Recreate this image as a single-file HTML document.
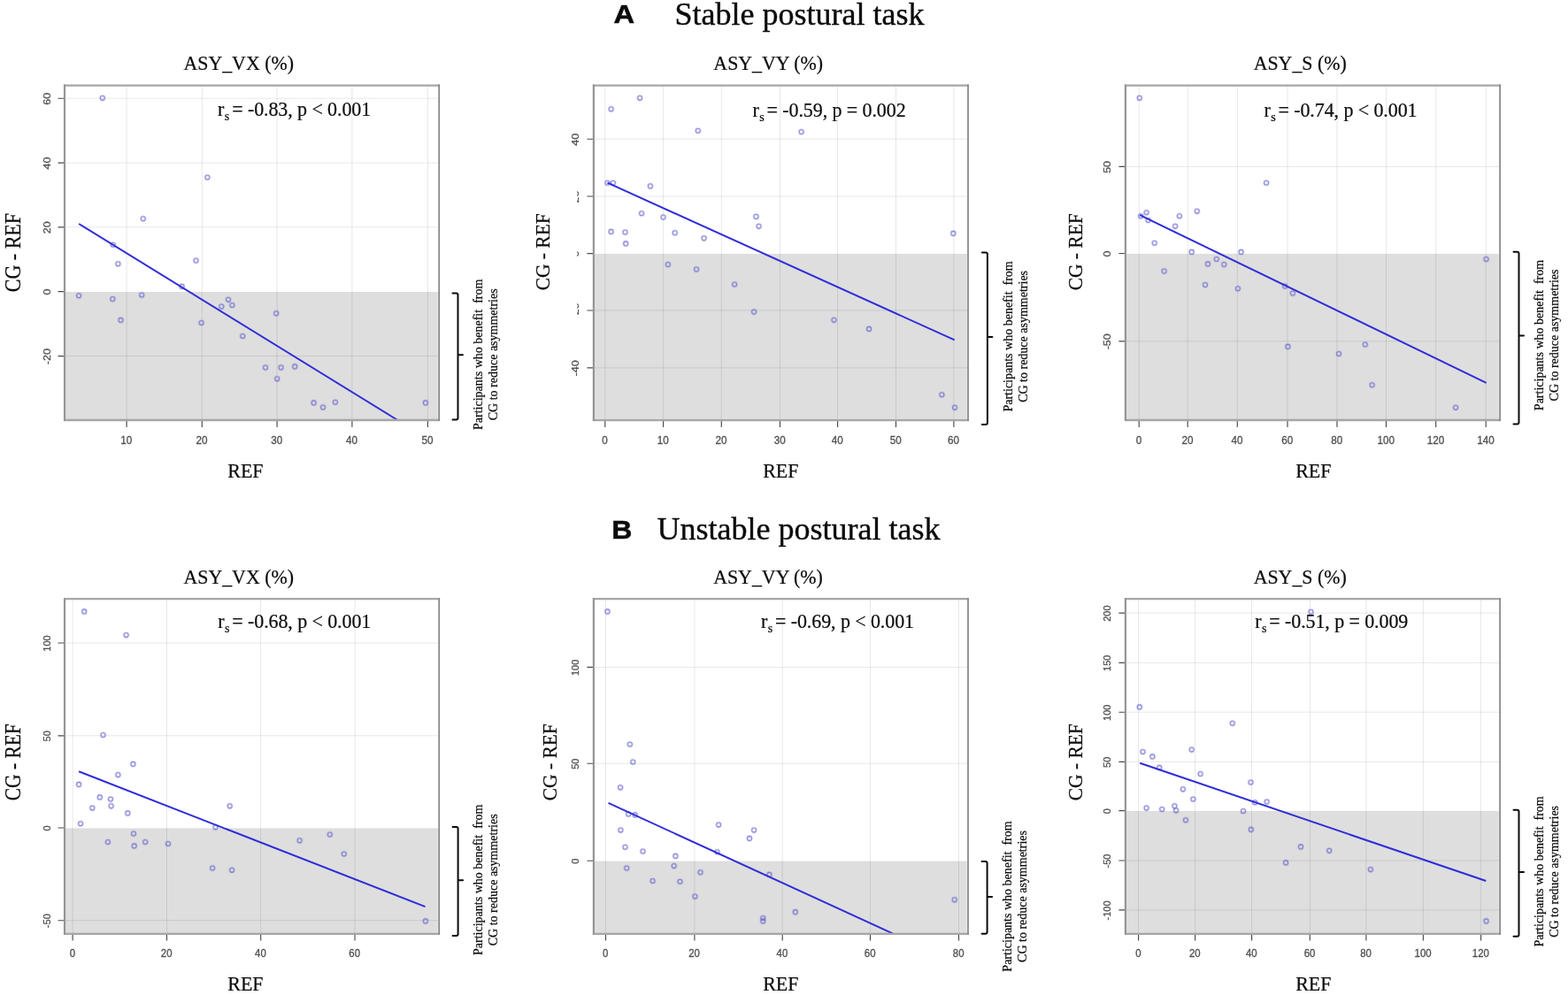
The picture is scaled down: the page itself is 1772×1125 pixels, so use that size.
<!DOCTYPE html>
<html lang="en"><head><meta charset="utf-8"><title>Asymmetry scatter plots</title>
<style>
html,body{margin:0;padding:0;background:#fff;}
body{width:1772px;height:1125px;overflow:hidden;}
svg{display:block;}
.se{font-family:"Liberation Serif","Times New Roman",serif;fill:#0c0c0c;stroke:#0c0c0c;stroke-width:0.22;}
.hd{stroke-width:0.4;}
.hb{fill:#0c0c0c;stroke:#0c0c0c;stroke-width:0.5;}
.sa{font-family:"Liberation Sans",Arial,sans-serif;}
.tl{font-family:"Liberation Sans",Arial,sans-serif;fill:#505050;stroke:#505050;stroke-width:0.3;}
.pt{fill:none;stroke:#6361cc;stroke-width:1.05;}
.gr{stroke:#000;stroke-opacity:0.095;stroke-width:1;fill:none;}
.tk{stroke:#4a4a4a;stroke-width:1.15;fill:none;}
.bh{stroke:#a6a6a6;stroke-width:2.3;fill:none;}
.bv{stroke:#959595;stroke-width:2.2;fill:none;}
.bw{stroke:#858585;stroke-width:1.7;fill:none;}
.ln{stroke:#2f2cd8;stroke-width:2;fill:none;stroke-linecap:butt;}
.br{stroke:#0a0a0a;stroke-width:2;fill:none;stroke-linejoin:round;stroke-linecap:round;}
</style></head><body>
<svg width="1772" height="1125" viewBox="0 0 1772 1125">
<defs><filter id="soft" x="0" y="0" width="100%" height="100%" filterUnits="userSpaceOnUse" color-interpolation-filters="sRGB"><feConvolveMatrix order="3" kernelMatrix="0.3 1 0.3 1 5 1 0.3 1 0.3" edgeMode="duplicate" preserveAlpha="false"/></filter></defs>
<rect x="0" y="0" width="1772" height="1125" fill="#fff"/>
<text class="sa hb" transform="translate(693.6 25.6) scale(1.13 1)" font-size="29" font-weight="bold">A</text>
<text class="se hd" x="762.6" y="28.4" font-size="36">Stable postural task</text>
<text class="sa hb" transform="translate(691.2 609.1) scale(1.06 1)" font-size="30.2" font-weight="bold">B</text>
<text class="se hd" x="742.5" y="609.6" font-size="36">Unstable postural task</text>
<g id="p1">
<clipPath id="cp1"><rect x="73" y="96.6" width="423.2" height="378.4"/></clipPath>
<rect x="493.2" y="330" width="3" height="145" fill="#e8e8e8"/>
<rect x="73" y="330" width="421.1" height="145" fill="#dedede"/>
<path class="gr" d="M143.1 96.6V475M228.3 96.6V475M313.1 96.6V475M397.9 96.6V475M483.4 96.6V475M73 111.2H496.2M73 184.1H496.2M73 256.8H496.2M73 402.6H496.2"/>
<g clip-path="url(#cp1)">
<g class="pt" filter="url(#soft)">
<circle cx="115.8" cy="110.8" r="2.55"/>
<circle cx="234.4" cy="200.5" r="2.55"/>
<circle cx="161.8" cy="247.2" r="2.55"/>
<circle cx="221.5" cy="294.6" r="2.55"/>
<circle cx="127.7" cy="276.7" r="2.55"/>
<circle cx="133.4" cy="298.3" r="2.55"/>
<circle cx="205.6" cy="323.9" r="2.55"/>
<circle cx="89.1" cy="334.2" r="2.55"/>
<circle cx="127.3" cy="338.1" r="2.55"/>
<circle cx="160.2" cy="333.5" r="2.55"/>
<circle cx="258" cy="338.8" r="2.55"/>
<circle cx="250.3" cy="346.6" r="2.55"/>
<circle cx="262.4" cy="345" r="2.55"/>
<circle cx="312.2" cy="354.2" r="2.55"/>
<circle cx="136.5" cy="361.9" r="2.55"/>
<circle cx="227.6" cy="365" r="2.55"/>
<circle cx="274.3" cy="380" r="2.55"/>
<circle cx="300" cy="415.5" r="2.55"/>
<circle cx="317.6" cy="415.5" r="2.55"/>
<circle cx="333.2" cy="414.4" r="2.55"/>
<circle cx="313.2" cy="428.3" r="2.55"/>
<circle cx="354.6" cy="455.4" r="2.55"/>
<circle cx="365" cy="460.5" r="2.55"/>
<circle cx="378.9" cy="454.7" r="2.55"/>
<circle cx="480.9" cy="455.4" r="2.55"/>
</g>
<path class="ln" d="M89.1 253L449.4 475"/>
</g>
<path class="tk" d="M143.1 475v8M228.3 475v8M313.1 475v8M397.9 475v8M483.4 475v8M73 111.2h-7.5M73 184.1h-7.5M73 256.8h-7.5M73 329.6h-7.5M73 402.6h-7.5"/>
<path class="bh" d="M72 96.6H497.2M72 475H497.2"/>
<path class="bv" d="M73 95.6V476"/>
<path class="bw" d="M496.2 95.6V476"/>
<text class="tl" font-size="11.7" text-anchor="middle" transform="translate(142.8 501.8) scale(1 1.08)">10</text>
<text class="tl" font-size="11.7" text-anchor="middle" transform="translate(228 501.8) scale(1 1.08)">20</text>
<text class="tl" font-size="11.7" text-anchor="middle" transform="translate(312.8 501.8) scale(1 1.08)">30</text>
<text class="tl" font-size="11.7" text-anchor="middle" transform="translate(397.6 501.8) scale(1 1.08)">40</text>
<text class="tl" font-size="11.7" text-anchor="middle" transform="translate(483.1 501.8) scale(1 1.08)">50</text>
<text class="tl" font-size="11.7" text-anchor="middle" transform="translate(56.5 111.7) rotate(-90) scale(1.07 1)">60</text>
<text class="tl" font-size="11.7" text-anchor="middle" transform="translate(56.5 184.6) rotate(-90) scale(1.07 1)">40</text>
<text class="tl" font-size="11.7" text-anchor="middle" transform="translate(56.5 257.3) rotate(-90) scale(1.07 1)">20</text>
<text class="tl" font-size="11.7" text-anchor="middle" transform="translate(56.5 330.1) rotate(-90) scale(1.07 1)">0</text>
<text class="tl" font-size="11.7" text-anchor="middle" transform="translate(56.5 403.1) rotate(-90) scale(1.07 1)">-20</text>
<text class="se" text-anchor="middle" transform="translate(269.7 79.3) scale(0.995 1.03)" font-size="22">ASY_VX (%)</text>
<text class="se" transform="translate(246.1 131.3) scale(1 1.05)" font-size="22" letter-spacing="-0.09">r<tspan font-size="14" dy="4.8" dx="0.5">s</tspan><tspan dy="-4.8" dx="3">= -0.83, p &lt; 0.001</tspan></text>
<text class="se" text-anchor="middle" font-size="22" transform="translate(22.9 285.6) rotate(-90) scale(1.0 1.14)">CG - REF</text>
<text class="se" text-anchor="middle" font-size="22" transform="translate(277.4 539.8) scale(1 1.05)">REF</text>
<path class="br" d="M511.5 331.5H515.5Q517.5 331.5 517.5 333.5V472.5Q517.5 474.5 515.5 474.5H511.5M517.5 401.3h5.5"/>
<text class="se" text-anchor="middle" font-size="14" xml:space="preserve" style="white-space:pre" transform="translate(545.1 400.8) rotate(-90)">Participants who benefit  from</text>
<text class="se" text-anchor="middle" font-size="14" transform="translate(562.1 400.8) rotate(-90)">CG to reduce asymmetries</text>
</g>
<g id="p2">
<clipPath id="cp2"><rect x="670.9" y="96.6" width="423.1" height="378.5"/></clipPath>
<rect x="1091" y="287" width="3" height="188.1" fill="#e8e8e8"/>
<rect x="670.9" y="287" width="421" height="188.1" fill="#dedede"/>
<path class="gr" d="M683.8 96.6V475.1M749.6 96.6V475.1M815.3 96.6V475.1M881.5 96.6V475.1M946.6 96.6V475.1M1012.5 96.6V475.1M1077.9 96.6V475.1M670.9 157.2H1094M670.9 222H1094M670.9 351H1094M670.9 415.9H1094"/>
<g clip-path="url(#cp2)">
<g class="pt" filter="url(#soft)">
<circle cx="723.1" cy="110.8" r="2.55"/>
<circle cx="690.6" cy="123.3" r="2.55"/>
<circle cx="788.8" cy="147.7" r="2.55"/>
<circle cx="905.6" cy="149.1" r="2.55"/>
<circle cx="686.5" cy="206.7" r="2.55"/>
<circle cx="692.9" cy="206.7" r="2.55"/>
<circle cx="734.9" cy="210.4" r="2.55"/>
<circle cx="725.1" cy="241.2" r="2.55"/>
<circle cx="749.5" cy="245.6" r="2.55"/>
<circle cx="690.6" cy="261.9" r="2.55"/>
<circle cx="706.5" cy="262.5" r="2.55"/>
<circle cx="707.2" cy="275.4" r="2.55"/>
<circle cx="762.7" cy="263.2" r="2.55"/>
<circle cx="795.6" cy="269.3" r="2.55"/>
<circle cx="854.5" cy="244.9" r="2.55"/>
<circle cx="857.5" cy="255.8" r="2.55"/>
<circle cx="1077.3" cy="263.9" r="2.55"/>
<circle cx="754.9" cy="299.1" r="2.55"/>
<circle cx="787.1" cy="304.5" r="2.55"/>
<circle cx="830.1" cy="321.5" r="2.55"/>
<circle cx="852.1" cy="352.6" r="2.55"/>
<circle cx="942.5" cy="361.8" r="2.55"/>
<circle cx="982.1" cy="371.9" r="2.55"/>
<circle cx="1064.4" cy="446.2" r="2.55"/>
<circle cx="1079" cy="460.8" r="2.55"/>
</g>
<path class="ln" d="M686.5 206.7L1078.7 384.4"/>
</g>
<path class="tk" d="M683.8 475.1v8M749.6 475.1v8M815.3 475.1v8M881.5 475.1v8M946.6 475.1v8M1012.5 475.1v8M1077.9 475.1v8M670.9 157.2h-7.5M670.9 222h-7.5M670.9 286.6h-7.5M670.9 351h-7.5M670.9 415.9h-7.5"/>
<path class="bh" d="M669.9 96.6H1095M669.9 475.1H1095"/>
<path class="bv" d="M670.9 95.6V476.1"/>
<path class="bw" d="M1094 95.6V476.1"/>
<text class="tl" font-size="11.7" text-anchor="middle" transform="translate(683.5 501.9) scale(1 1.08)">0</text>
<text class="tl" font-size="11.7" text-anchor="middle" transform="translate(749.3 501.9) scale(1 1.08)">10</text>
<text class="tl" font-size="11.7" text-anchor="middle" transform="translate(815 501.9) scale(1 1.08)">20</text>
<text class="tl" font-size="11.7" text-anchor="middle" transform="translate(881.2 501.9) scale(1 1.08)">30</text>
<text class="tl" font-size="11.7" text-anchor="middle" transform="translate(946.3 501.9) scale(1 1.08)">40</text>
<text class="tl" font-size="11.7" text-anchor="middle" transform="translate(1012.2 501.9) scale(1 1.08)">50</text>
<text class="tl" font-size="11.7" text-anchor="middle" transform="translate(1077.6 501.9) scale(1 1.08)">60</text>
<clipPath id="kp2"><rect x="652.1" y="96.6" width="3" height="378.5"/></clipPath>
<text class="tl" font-size="11.7" text-anchor="middle" transform="translate(654.4 157.7) rotate(-90) scale(1.07 1)">40</text>
<g clip-path="url(#kp2)"><text class="tl" font-size="11.7" text-anchor="middle" transform="translate(654.4 222.5) rotate(-90) scale(1.07 1)">20</text></g>
<g clip-path="url(#kp2)"><text class="tl" font-size="11.7" text-anchor="middle" transform="translate(654.4 287.1) rotate(-90) scale(1.07 1)">0</text></g>
<g clip-path="url(#kp2)"><text class="tl" font-size="11.7" text-anchor="middle" transform="translate(654.4 351.5) rotate(-90) scale(1.07 1)">-20</text></g>
<text class="tl" font-size="11.7" text-anchor="middle" transform="translate(654.4 416.4) rotate(-90) scale(1.07 1)">-40</text>
<text class="se" text-anchor="middle" transform="translate(868.2 79.3) scale(0.995 1.03)" font-size="22">ASY_VY (%)</text>
<text class="se" transform="translate(850.5 131.8) scale(1 1.05)" font-size="22" letter-spacing="-0.09">r<tspan font-size="14" dy="4.8" dx="0.5">s</tspan><tspan dy="-4.8" dx="3">= -0.59, p = 0.002</tspan></text>
<text class="se" text-anchor="middle" font-size="22" transform="translate(620.9 284.8) rotate(-90) scale(0.975 1.065)">CG - REF</text>
<text class="se" text-anchor="middle" font-size="22" transform="translate(882.3 539.8) scale(1 1.05)">REF</text>
<path class="br" d="M1109.9 285.4H1113.9Q1115.9 285.4 1115.9 287.4V478.1Q1115.9 480.1 1113.9 480.1H1109.9M1115.9 380.9h5.5"/>
<text class="se" text-anchor="middle" font-size="14" xml:space="preserve" style="white-space:pre" transform="translate(1143.5 380.4) rotate(-90)">Participants who benefit  from</text>
<text class="se" text-anchor="middle" font-size="14" transform="translate(1160.5 380.4) rotate(-90)">CG to reduce asymmetries</text>
</g>
<g id="p3">
<clipPath id="cp3"><rect x="1271.9" y="96.6" width="423.2" height="378.4"/></clipPath>
<rect x="1692.1" y="286.9" width="3" height="188.1" fill="#e8e8e8"/>
<rect x="1271.9" y="286.9" width="421.1" height="188.1" fill="#dedede"/>
<path class="gr" d="M1287.2 96.6V475M1342.2 96.6V475M1398.3 96.6V475M1455 96.6V475M1511 96.6V475M1566.5 96.6V475M1622.7 96.6V475M1679.2 96.6V475M1271.9 188.4H1695.1M1271.9 385.8H1695.1"/>
<g clip-path="url(#cp3)">
<g class="pt" filter="url(#soft)">
<circle cx="1287.8" cy="110.8" r="2.55"/>
<circle cx="1431.1" cy="206.7" r="2.55"/>
<circle cx="1295.6" cy="240.2" r="2.55"/>
<circle cx="1289.2" cy="244.2" r="2.55"/>
<circle cx="1297.6" cy="249" r="2.55"/>
<circle cx="1332.9" cy="244.2" r="2.55"/>
<circle cx="1352.8" cy="238.8" r="2.55"/>
<circle cx="1328.1" cy="255.8" r="2.55"/>
<circle cx="1304.7" cy="274.7" r="2.55"/>
<circle cx="1346.7" cy="284.9" r="2.55"/>
<circle cx="1402.6" cy="284.9" r="2.55"/>
<circle cx="1315.6" cy="306.6" r="2.55"/>
<circle cx="1365" cy="298.4" r="2.55"/>
<circle cx="1374.8" cy="293" r="2.55"/>
<circle cx="1383.3" cy="299.1" r="2.55"/>
<circle cx="1362" cy="322.1" r="2.55"/>
<circle cx="1398.9" cy="326.2" r="2.55"/>
<circle cx="1452.1" cy="323.5" r="2.55"/>
<circle cx="1460.9" cy="331.6" r="2.55"/>
<circle cx="1455.4" cy="391.9" r="2.55"/>
<circle cx="1513" cy="400" r="2.55"/>
<circle cx="1542.8" cy="389.5" r="2.55"/>
<circle cx="1550.6" cy="435.2" r="2.55"/>
<circle cx="1679.6" cy="293" r="2.55"/>
<circle cx="1645.1" cy="460.8" r="2.55"/>
</g>
<path class="ln" d="M1288.2 243.2L1679.6 432.9"/>
</g>
<path class="tk" d="M1287.2 475v8M1342.2 475v8M1398.3 475v8M1455 475v8M1511 475v8M1566.5 475v8M1622.7 475v8M1679.2 475v8M1271.9 188.4h-7.5M1271.9 286.5h-7.5M1271.9 385.8h-7.5"/>
<path class="bh" d="M1270.9 96.6H1696.1M1270.9 475H1696.1"/>
<path class="bv" d="M1271.9 95.6V476"/>
<path class="bw" d="M1695.1 95.6V476"/>
<text class="tl" font-size="11.7" text-anchor="middle" transform="translate(1286.9 501.8) scale(1 1.08)">0</text>
<text class="tl" font-size="11.7" text-anchor="middle" transform="translate(1341.9 501.8) scale(1 1.08)">20</text>
<text class="tl" font-size="11.7" text-anchor="middle" transform="translate(1398 501.8) scale(1 1.08)">40</text>
<text class="tl" font-size="11.7" text-anchor="middle" transform="translate(1454.7 501.8) scale(1 1.08)">60</text>
<text class="tl" font-size="11.7" text-anchor="middle" transform="translate(1510.7 501.8) scale(1 1.08)">80</text>
<text class="tl" font-size="11.7" text-anchor="middle" transform="translate(1566.2 501.8) scale(1 1.08)">100</text>
<text class="tl" font-size="11.7" text-anchor="middle" transform="translate(1622.4 501.8) scale(1 1.08)">120</text>
<text class="tl" font-size="11.7" text-anchor="middle" transform="translate(1678.9 501.8) scale(1 1.08)">140</text>
<text class="tl" font-size="11.7" text-anchor="middle" transform="translate(1255.4 188.9) rotate(-90) scale(1.07 1)">50</text>
<text class="tl" font-size="11.7" text-anchor="middle" transform="translate(1255.4 287) rotate(-90) scale(1.07 1)">0</text>
<text class="tl" font-size="11.7" text-anchor="middle" transform="translate(1255.4 386.3) rotate(-90) scale(1.07 1)">-50</text>
<text class="se" text-anchor="middle" transform="translate(1469.2 79.3) scale(0.995 1.03)" font-size="22">ASY_S (%)</text>
<text class="se" transform="translate(1428.4 131.8) scale(1 1.05)" font-size="22" letter-spacing="-0.09">r<tspan font-size="14" dy="4.8" dx="0.5">s</tspan><tspan dy="-4.8" dx="3">= -0.74, p &lt; 0.001</tspan></text>
<text class="se" text-anchor="middle" font-size="22" transform="translate(1222.9 284.8) rotate(-90) scale(0.975 1.065)">CG - REF</text>
<text class="se" text-anchor="middle" font-size="22" transform="translate(1484.3 539.8) scale(1 1.05)">REF</text>
<path class="br" d="M1710.5 284.7H1714.5Q1716.5 284.7 1716.5 286.7V477.4Q1716.5 479.4 1714.5 479.4H1710.5M1716.5 379.5h5.5"/>
<text class="se" text-anchor="middle" font-size="14" xml:space="preserve" style="white-space:pre" transform="translate(1744.1 379) rotate(-90)">Participants who benefit  from</text>
<text class="se" text-anchor="middle" font-size="14" transform="translate(1761.1 379) rotate(-90)">CG to reduce asymmetries</text>
</g>
<g id="p4">
<clipPath id="cp4"><rect x="73" y="677.2" width="423.2" height="378.6"/></clipPath>
<rect x="493.2" y="936.4" width="3" height="119.4" fill="#e8e8e8"/>
<rect x="73" y="936.4" width="421.1" height="119.4" fill="#dedede"/>
<path class="gr" d="M82.1 677.2V1055.8M188.5 677.2V1055.8M294.7 677.2V1055.8M401 677.2V1055.8M73 727H496.2M73 831.8H496.2M73 1040.7H496.2"/>
<g clip-path="url(#cp4)">
<g class="pt" filter="url(#soft)">
<circle cx="95.2" cy="691.4" r="2.55"/>
<circle cx="142.6" cy="718.1" r="2.55"/>
<circle cx="116.5" cy="831" r="2.55"/>
<circle cx="150.4" cy="863.9" r="2.55"/>
<circle cx="133.4" cy="876.1" r="2.55"/>
<circle cx="89.1" cy="886.9" r="2.55"/>
<circle cx="112.8" cy="901.4" r="2.55"/>
<circle cx="125" cy="903.5" r="2.55"/>
<circle cx="125.6" cy="911.3" r="2.55"/>
<circle cx="104.3" cy="913.6" r="2.55"/>
<circle cx="144.3" cy="919.4" r="2.55"/>
<circle cx="259.7" cy="911.3" r="2.55"/>
<circle cx="91.1" cy="931.2" r="2.55"/>
<circle cx="243.5" cy="935.3" r="2.55"/>
<circle cx="151" cy="942.5" r="2.55"/>
<circle cx="121.9" cy="952" r="2.55"/>
<circle cx="151.7" cy="956.4" r="2.55"/>
<circle cx="164.2" cy="952" r="2.55"/>
<circle cx="190" cy="954" r="2.55"/>
<circle cx="240.1" cy="981.5" r="2.55"/>
<circle cx="262.1" cy="983.8" r="2.55"/>
<circle cx="338.6" cy="950.3" r="2.55"/>
<circle cx="372.8" cy="943.5" r="2.55"/>
<circle cx="388.8" cy="965.5" r="2.55"/>
<circle cx="480.9" cy="1041.4" r="2.55"/>
</g>
<path class="ln" d="M89.1 872.3L480.5 1025.1"/>
</g>
<path class="tk" d="M82.1 1055.8v7.6M188.5 1055.8v7.6M294.7 1055.8v7.6M401 1055.8v7.6M73 727h-7.5M73 831.8h-7.5M73 936h-7.5M73 1040.7h-7.5"/>
<path class="bh" d="M72 677.2H497.2M72 1055.8H497.2"/>
<path class="bv" d="M73 676.2V1056.8"/>
<path class="bw" d="M496.2 676.2V1056.8"/>
<text class="tl" font-size="11.4" text-anchor="middle" transform="translate(81.8 1082.2) scale(1 1.08)">0</text>
<text class="tl" font-size="11.4" text-anchor="middle" transform="translate(188.2 1082.2) scale(1 1.08)">20</text>
<text class="tl" font-size="11.4" text-anchor="middle" transform="translate(294.4 1082.2) scale(1 1.08)">40</text>
<text class="tl" font-size="11.4" text-anchor="middle" transform="translate(400.7 1082.2) scale(1 1.08)">60</text>
<text class="tl" font-size="11.4" text-anchor="middle" transform="translate(56.5 727.5) rotate(-90) scale(0.97 1)">100</text>
<text class="tl" font-size="11.4" text-anchor="middle" transform="translate(56.5 832.3) rotate(-90) scale(0.97 1)">50</text>
<text class="tl" font-size="11.4" text-anchor="middle" transform="translate(56.5 936.5) rotate(-90) scale(0.97 1)">0</text>
<text class="tl" font-size="11.4" text-anchor="middle" transform="translate(56.5 1041.2) rotate(-90) scale(0.97 1)">-50</text>
<text class="se" text-anchor="middle" transform="translate(269.7 659.5) scale(0.995 1.03)" font-size="22">ASY_VX (%)</text>
<text class="se" transform="translate(246.2 709.8) scale(1 1.05)" font-size="22" letter-spacing="-0.09">r<tspan font-size="14" dy="4.8" dx="0.5">s</tspan><tspan dy="-4.8" dx="3">= -0.68, p &lt; 0.001</tspan></text>
<text class="se" text-anchor="middle" font-size="22" transform="translate(22.9 861.7) rotate(-90) scale(0.975 1.14)">CG - REF</text>
<text class="se" text-anchor="middle" font-size="22" transform="translate(277.4 1119.6) scale(1 1.05)">REF</text>
<path class="br" d="M511.6 935H515.6Q517.6 935 517.6 937V1056Q517.6 1058 515.6 1058H511.6M517.6 995.3h5.5"/>
<text class="se" text-anchor="middle" font-size="14" xml:space="preserve" style="white-space:pre" transform="translate(545.2 994.8) rotate(-90)">Participants who benefit  from</text>
<text class="se" text-anchor="middle" font-size="14" transform="translate(562.2 994.8) rotate(-90)">CG to reduce asymmetries</text>
</g>
<g id="p5">
<clipPath id="cp5"><rect x="670.9" y="677.2" width="423.1" height="378.6"/></clipPath>
<rect x="1091" y="973.6" width="3" height="82.2" fill="#e8e8e8"/>
<rect x="670.9" y="973.6" width="421" height="82.2" fill="#dedede"/>
<path class="gr" d="M684.5 677.2V1055.8M784.9 677.2V1055.8M884.2 677.2V1055.8M983.5 677.2V1055.8M1083.5 677.2V1055.8M670.9 754.4H1094M670.9 863.2H1094"/>
<g clip-path="url(#cp5)">
<g class="pt" filter="url(#soft)">
<circle cx="686.5" cy="691.4" r="2.55"/>
<circle cx="711.9" cy="841.5" r="2.55"/>
<circle cx="715.3" cy="861.5" r="2.55"/>
<circle cx="701.1" cy="890.3" r="2.55"/>
<circle cx="710.2" cy="920.4" r="2.55"/>
<circle cx="717.7" cy="921.4" r="2.55"/>
<circle cx="701.4" cy="938.6" r="2.55"/>
<circle cx="706.5" cy="957.7" r="2.55"/>
<circle cx="726.5" cy="962.5" r="2.55"/>
<circle cx="708.2" cy="981.5" r="2.55"/>
<circle cx="737.6" cy="996" r="2.55"/>
<circle cx="812.1" cy="932.6" r="2.55"/>
<circle cx="852.1" cy="938.6" r="2.55"/>
<circle cx="847" cy="947.9" r="2.55"/>
<circle cx="810.5" cy="963.2" r="2.55"/>
<circle cx="763.4" cy="967.9" r="2.55"/>
<circle cx="761.7" cy="979.1" r="2.55"/>
<circle cx="768.5" cy="996.7" r="2.55"/>
<circle cx="791.5" cy="986.2" r="2.55"/>
<circle cx="785.4" cy="1013.6" r="2.55"/>
<circle cx="869.4" cy="988.9" r="2.55"/>
<circle cx="862.3" cy="1038" r="2.55"/>
<circle cx="862.3" cy="1041.4" r="2.55"/>
<circle cx="898.8" cy="1031.2" r="2.55"/>
<circle cx="1078.7" cy="1017.3" r="2.55"/>
</g>
<path class="ln" d="M687.5 907.9L1009.2 1055.6"/>
</g>
<path class="tk" d="M684.5 1055.8v7.6M784.9 1055.8v7.6M884.2 1055.8v7.6M983.5 1055.8v7.6M1083.5 1055.8v7.6M670.9 754.4h-7.5M670.9 863.2h-7.5M670.9 973.2h-7.5"/>
<path class="bh" d="M669.9 677.2H1095M669.9 1055.8H1095"/>
<path class="bv" d="M670.9 676.2V1056.8"/>
<path class="bw" d="M1094 676.2V1056.8"/>
<text class="tl" font-size="11.4" text-anchor="middle" transform="translate(684.2 1082.2) scale(1 1.08)">0</text>
<text class="tl" font-size="11.4" text-anchor="middle" transform="translate(784.6 1082.2) scale(1 1.08)">20</text>
<text class="tl" font-size="11.4" text-anchor="middle" transform="translate(883.9 1082.2) scale(1 1.08)">40</text>
<text class="tl" font-size="11.4" text-anchor="middle" transform="translate(983.2 1082.2) scale(1 1.08)">60</text>
<text class="tl" font-size="11.4" text-anchor="middle" transform="translate(1083.2 1082.2) scale(1 1.08)">80</text>
<text class="tl" font-size="11.4" text-anchor="middle" transform="translate(654.4 754.9) rotate(-90) scale(0.97 1)">100</text>
<text class="tl" font-size="11.4" text-anchor="middle" transform="translate(654.4 863.7) rotate(-90) scale(0.97 1)">50</text>
<text class="tl" font-size="11.4" text-anchor="middle" transform="translate(654.4 973.7) rotate(-90) scale(0.97 1)">0</text>
<text class="se" text-anchor="middle" transform="translate(868 659.5) scale(0.995 1.03)" font-size="22">ASY_VY (%)</text>
<text class="se" transform="translate(859.9 709.8) scale(1 1.05)" font-size="22" letter-spacing="-0.09">r<tspan font-size="14" dy="4.8" dx="0.5">s</tspan><tspan dy="-4.8" dx="3">= -0.69, p &lt; 0.001</tspan></text>
<text class="se" text-anchor="middle" font-size="22" transform="translate(629.2 861.7) rotate(-90) scale(0.975 1.065)">CG - REF</text>
<text class="se" text-anchor="middle" font-size="22" transform="translate(882.3 1119.6) scale(1 1.05)">REF</text>
<path class="br" d="M1109.6 973.9H1113.6Q1115.6 973.9 1115.6 975.9V1053.8Q1115.6 1055.8 1113.6 1055.8H1109.6M1115.6 1014h5.5"/>
<text class="se" text-anchor="middle" font-size="14" xml:space="preserve" style="white-space:pre" transform="translate(1143.2 1013.5) rotate(-90)">Participants who benefit  from</text>
<text class="se" text-anchor="middle" font-size="14" transform="translate(1160.2 1013.5) rotate(-90)">CG to reduce asymmetries</text>
</g>
<g id="p6">
<clipPath id="cp6"><rect x="1271.9" y="677.2" width="423.2" height="378.6"/></clipPath>
<rect x="1692.1" y="917" width="3" height="138.8" fill="#e8e8e8"/>
<rect x="1271.9" y="917" width="421.1" height="138.8" fill="#dedede"/>
<path class="gr" d="M1286.6 677.2V1055.8M1350.6 677.2V1055.8M1414.6 677.2V1055.8M1480.3 677.2V1055.8M1543.9 677.2V1055.8M1608.4 677.2V1055.8M1673.6 677.2V1055.8M1271.9 693.1H1695.1M1271.9 749.3H1695.1M1271.9 805.2H1695.1M1271.9 861.3H1695.1M1271.9 973H1695.1M1271.9 1028.9H1695.1"/>
<g clip-path="url(#cp6)">
<g class="pt" filter="url(#soft)">
<circle cx="1481.5" cy="691.7" r="2.55"/>
<circle cx="1287.8" cy="799.4" r="2.55"/>
<circle cx="1392.8" cy="817.7" r="2.55"/>
<circle cx="1291.5" cy="850" r="2.55"/>
<circle cx="1302.4" cy="855.4" r="2.55"/>
<circle cx="1346.7" cy="847.6" r="2.55"/>
<circle cx="1310.2" cy="867.9" r="2.55"/>
<circle cx="1356.6" cy="875" r="2.55"/>
<circle cx="1413.5" cy="884.5" r="2.55"/>
<circle cx="1336.9" cy="892.3" r="2.55"/>
<circle cx="1348.4" cy="903.5" r="2.55"/>
<circle cx="1418.2" cy="907.2" r="2.55"/>
<circle cx="1431.7" cy="906.5" r="2.55"/>
<circle cx="1295.6" cy="913.6" r="2.55"/>
<circle cx="1313.2" cy="915" r="2.55"/>
<circle cx="1327.4" cy="911.3" r="2.55"/>
<circle cx="1329.1" cy="916.3" r="2.55"/>
<circle cx="1405" cy="917" r="2.55"/>
<circle cx="1340" cy="927.2" r="2.55"/>
<circle cx="1413.8" cy="937.9" r="2.55"/>
<circle cx="1453.1" cy="975.4" r="2.55"/>
<circle cx="1470" cy="957.4" r="2.55"/>
<circle cx="1502.2" cy="961.8" r="2.55"/>
<circle cx="1548.9" cy="983.1" r="2.55"/>
<circle cx="1679.6" cy="1041.4" r="2.55"/>
</g>
<path class="ln" d="M1288.2 862.8L1679.3 996"/>
</g>
<path class="tk" d="M1286.6 1055.8v7.6M1350.6 1055.8v7.6M1414.6 1055.8v7.6M1480.3 1055.8v7.6M1543.9 1055.8v7.6M1608.4 1055.8v7.6M1673.6 1055.8v7.6M1271.9 693.1h-7.5M1271.9 749.3h-7.5M1271.9 805.2h-7.5M1271.9 861.3h-7.5M1271.9 916.6h-7.5M1271.9 973h-7.5M1271.9 1028.9h-7.5"/>
<path class="bh" d="M1270.9 677.2H1696.1M1270.9 1055.8H1696.1"/>
<path class="bv" d="M1271.9 676.2V1056.8"/>
<path class="bw" d="M1695.1 676.2V1056.8"/>
<text class="tl" font-size="11.4" text-anchor="middle" transform="translate(1286.3 1082.2) scale(1 1.08)">0</text>
<text class="tl" font-size="11.4" text-anchor="middle" transform="translate(1350.3 1082.2) scale(1 1.08)">20</text>
<text class="tl" font-size="11.4" text-anchor="middle" transform="translate(1414.3 1082.2) scale(1 1.08)">40</text>
<text class="tl" font-size="11.4" text-anchor="middle" transform="translate(1480 1082.2) scale(1 1.08)">60</text>
<text class="tl" font-size="11.4" text-anchor="middle" transform="translate(1543.6 1082.2) scale(1 1.08)">80</text>
<text class="tl" font-size="11.4" text-anchor="middle" transform="translate(1608.1 1082.2) scale(1 1.08)">100</text>
<text class="tl" font-size="11.4" text-anchor="middle" transform="translate(1673.3 1082.2) scale(1 1.08)">120</text>
<text class="tl" font-size="11.4" text-anchor="middle" transform="translate(1255.4 693.6) rotate(-90) scale(0.97 1)">200</text>
<text class="tl" font-size="11.4" text-anchor="middle" transform="translate(1255.4 749.8) rotate(-90) scale(0.97 1)">150</text>
<text class="tl" font-size="11.4" text-anchor="middle" transform="translate(1255.4 805.7) rotate(-90) scale(0.97 1)">100</text>
<text class="tl" font-size="11.4" text-anchor="middle" transform="translate(1255.4 861.8) rotate(-90) scale(0.97 1)">50</text>
<text class="tl" font-size="11.4" text-anchor="middle" transform="translate(1255.4 917.1) rotate(-90) scale(0.97 1)">0</text>
<text class="tl" font-size="11.4" text-anchor="middle" transform="translate(1255.4 973.5) rotate(-90) scale(0.97 1)">-50</text>
<text class="tl" font-size="11.4" text-anchor="middle" transform="translate(1255.4 1029.4) rotate(-90) scale(0.97 1)">-100</text>
<text class="se" text-anchor="middle" transform="translate(1469.2 659.5) scale(0.995 1.03)" font-size="22">ASY_S (%)</text>
<text class="se" transform="translate(1418.2 709.8) scale(1 1.05)" font-size="22" letter-spacing="-0.09">r<tspan font-size="14" dy="4.8" dx="0.5">s</tspan><tspan dy="-4.8" dx="3">= -0.51, p = 0.009</tspan></text>
<text class="se" text-anchor="middle" font-size="22" transform="translate(1222.9 861.7) rotate(-90) scale(0.975 1.065)">CG - REF</text>
<text class="se" text-anchor="middle" font-size="22" transform="translate(1484.3 1119.6) scale(1 1.05)">REF</text>
<path class="br" d="M1710.5 915.8H1714.5Q1716.5 915.8 1716.5 917.8V1056.7Q1716.5 1058.7 1714.5 1058.7H1710.5M1716.5 985.9h5.5"/>
<text class="se" text-anchor="middle" font-size="14" xml:space="preserve" style="white-space:pre" transform="translate(1744.1 985.4) rotate(-90)">Participants who benefit  from</text>
<text class="se" text-anchor="middle" font-size="14" transform="translate(1761.1 985.4) rotate(-90)">CG to reduce asymmetries</text>
</g>
</svg>
</body></html>
